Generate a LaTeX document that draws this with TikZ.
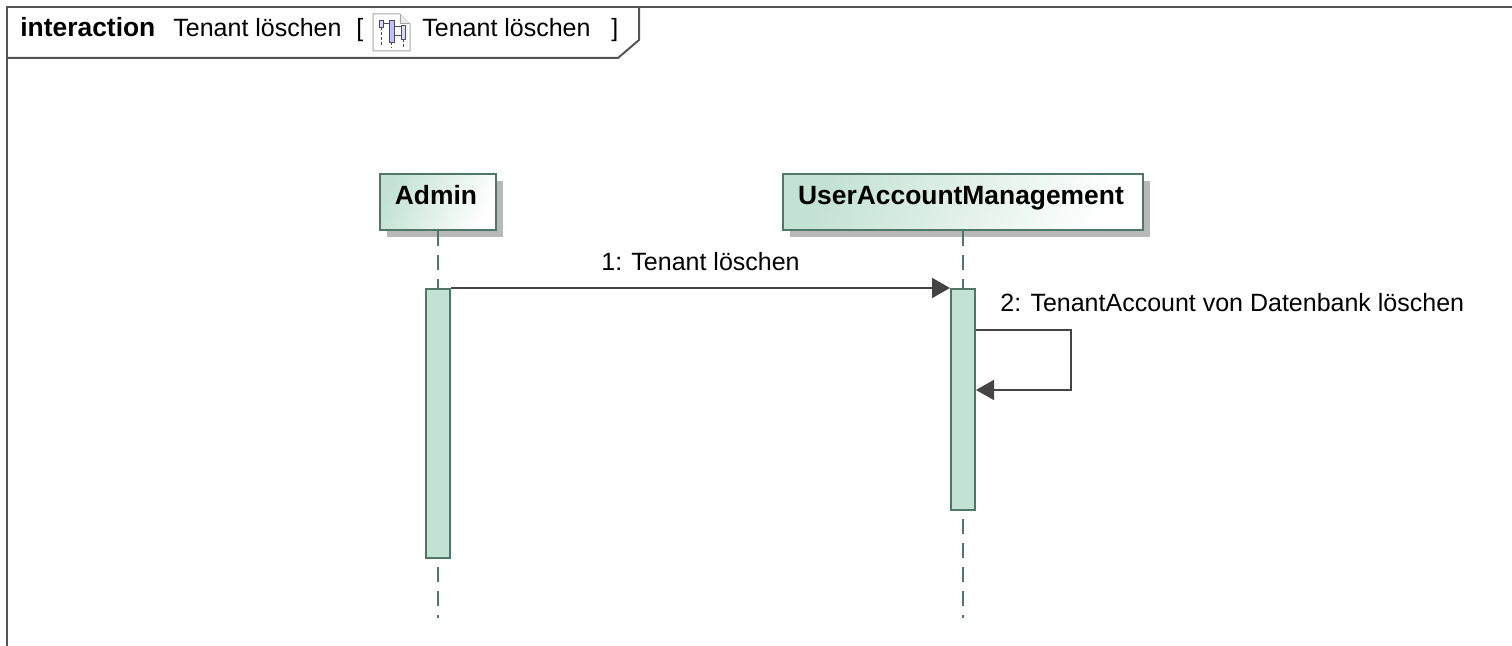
\documentclass[tikz,border=0pt]{standalone}
\usepackage{fontspec}
\setmainfont{Liberation Sans}
\usetikzlibrary{arrows.meta,shadows}
\definecolor{barfill}{HTML}{C3E2D3}
\definecolor{lifecol}{HTML}{4F7767}
\definecolor{msgcol}{HTML}{444444}
\definecolor{framecol}{HTML}{555555}
\definecolor{shadowcol}{HTML}{B8B8B8}
\tikzset{
  lifebox/.style={draw=lifecol,line width=1.1pt,left color=barfill,right color=white,shading angle=65,
    minimum height=28pt,inner sep=0pt,text height=6pt,text depth=3pt,font=\fontsize{13.2}{15}\selectfont\bfseries,
    execute at end node=\kern2pt,
    drop shadow={shadow xshift=3.5pt,shadow yshift=-3.5pt,fill=shadowcol,opacity=1}},
  lifeline/.style={draw=lifecol,line width=0.9pt,dash pattern=on 7.5pt off 4.5pt},
  actbar/.style={draw=lifecol,fill=barfill,line width=1pt,minimum width=12pt,inner sep=0pt},
  msg/.style={draw=msgcol,line width=0.9pt,-{Triangle[length=9pt,width=10pt]}},
  txt/.style={anchor=base west,inner sep=0pt,font=\fontsize{12.5}{15}\selectfont}
}
\begin{document}
\begin{tikzpicture}[x=0.5pt,y=-0.5pt]
\useasboundingbox (0,0) rectangle (1512,646);
% frame
\draw[framecol,line width=1pt] (7,646) -- (7,7) -- (1512,7);
\draw[framecol,line width=1pt] (7,58) -- (618,58) -- (639,40) -- (639,7);
\node[txt,font=\fontsize{13.2}{15}\selectfont\bfseries] (kind) at (20,37) {interaction};
\node[txt] (name) at (173,37) {Tenant löschen};
\node[txt] (open) at (356,37) {[};
\node[txt] (ref) at (422,37) {Tenant löschen};
\node[txt] (close) at (611,37) {]};
% icon
\draw[gray!70,fill=white,line width=0.5pt] (373,14) -- (400,14) -- (410,24) -- (410,51) -- (373,51) -- cycle;
\draw[gray!70,fill=gray!15,line width=0.5pt] (400,14) -- (400,24) -- (410,24);
\draw[black!70,line width=0.3pt,dash pattern=on 1.5pt off 1pt] (381,27) -- (381,47) (391,42) -- (391,48) (403,39) -- (403,48);
\draw[black!70,line width=0.4pt,fill=blue!15] (379,20) rectangle (383,27);
\draw[black!70,line width=0.4pt,fill=blue!25] (389,20) rectangle (394,42);
\draw[black!70,line width=0.4pt,fill=blue!15] (401,25) rectangle (405,39);
\draw[black!70,line width=0.4pt] (383,23) -- (389,23) (394,26) -- (401,26) (394,35) -- (401,35);
% lifelines
\node[lifebox,minimum width=58pt] (admin) at (438,202) {Admin};
\node[lifebox,minimum width=180pt] (useraccount) at (963,202) {UserAccountManagement};
\coordinate (adminend) at (438,618);
\coordinate (userend) at (963,618);
\draw[lifeline] (admin.south) -- (adminend);
\draw[lifeline] (useraccount.south) -- (userend);
% activations
\node[actbar,minimum height=134.5pt] (adminbar) at (438,423.5) {};
\node[actbar,minimum height=110.5pt] (userbar) at (963,399.5) {};
% messages
\draw[msg] (adminbar.north east) -- (userbar.north west)
  node[midway,anchor=base,yshift=8.5pt,inner sep=0pt,font=\fontsize{12.5}{15}\selectfont] (msgone) {1: Tenant löschen};
\coordinate (selfout) at (userbar.east |- 0,330);
\coordinate (selfin) at (userbar.east |- 0,390);
\draw[msg] (selfout) -- (1071,330) -- (1071,390) -- (selfin);
\node[txt] (msgtwo) at (1000,312) {2: TenantAccount von Datenbank löschen};
\end{tikzpicture}
\end{document}
